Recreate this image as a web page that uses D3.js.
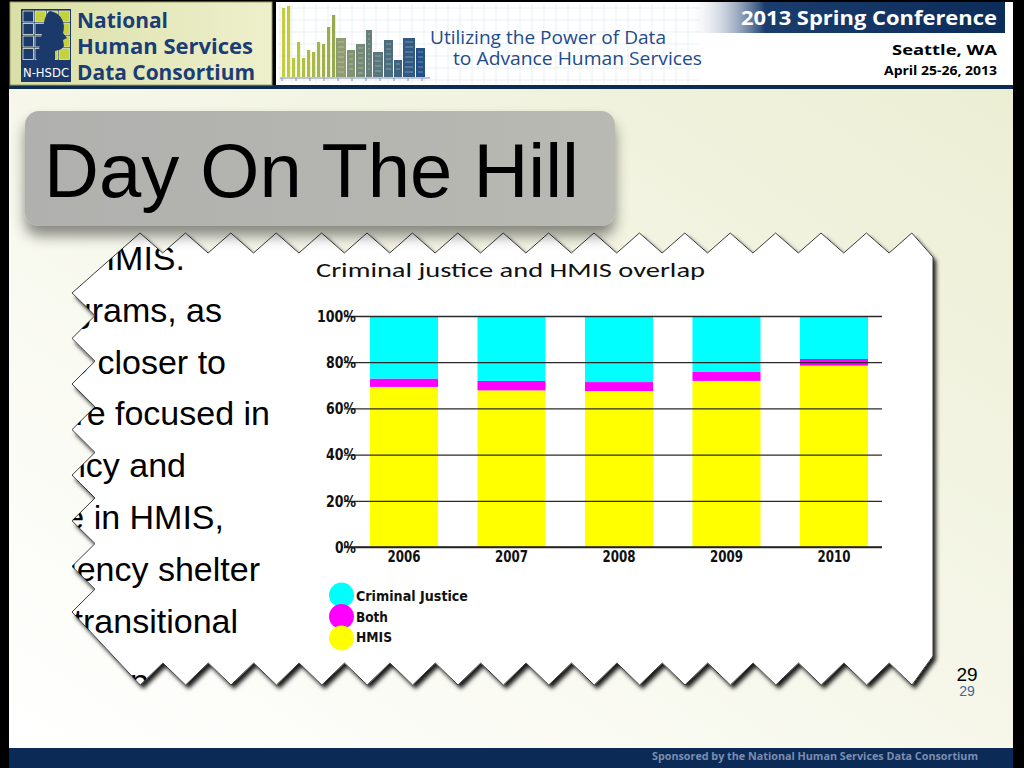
<!DOCTYPE html>
<html><head><meta charset="utf-8">
<script src="https://cdn.jsdelivr.net/npm/d3@7"></script>
<style>html,body{margin:0;padding:0;background:#000;overflow:hidden}</style>
</head><body>
<script>
// ---- data ----
const years = ["2006","2007","2008","2009","2010"];
const hmis = [69.3, 67.8, 67.5, 71.9, 78.5];
const both = [3.6, 4.1, 3.9, 3.9, 2.9];
const criminalJustice = [27.1, 28.1, 28.6, 24.2, 18.6];
const yTicks = [0, 20, 40, 60, 80, 100];
const legendNames = ["Criminal Justice", "Both", "HMIS"];
const legendColors = ["#00ffff", "#ff00ff", "#ffff00"];
const chartTitle = "Criminal justice and HMIS overlap";
const bodyLines = ["in HMIS.", "programs, as", "move closer to", "are focused in", "agency and", "are in HMIS,", "emergency shelter", "transitional"];
const skylineTops = [8, 6, 58, 42, 58, 50, 52, 42, 44, 27, 15];

const W = 1024, H = 768;
const NARROW = "Liberation Sans Narrow, Arial Narrow, DejaVu Sans Condensed, sans-serif";
const svg = d3.select("body").append("svg").attr("width", W).attr("height", H);
const defs = svg.append("defs");

// gradients & filters
const bg = defs.append("linearGradient").attr("id","bgGrad").attr("x1","0").attr("y1","1").attr("x2","1").attr("y2","0");
bg.append("stop").attr("offset","0").attr("stop-color","#ffffff");
bg.append("stop").attr("offset","0.45").attr("stop-color","#f7f8ec");
bg.append("stop").attr("offset","1").attr("stop-color","#eceed4");
const lg = defs.append("linearGradient").attr("id","logoGrad").attr("x1","0").attr("x2","1");
lg.append("stop").attr("offset","0").attr("stop-color","#d9dfa6");
lg.append("stop").attr("offset","1").attr("stop-color","#eef0cc");
const cg = defs.append("linearGradient").attr("id","confGrad").attr("x1","0").attr("x2","1");
cg.append("stop").attr("offset","0").attr("stop-color","#ffffff").attr("stop-opacity","0");
cg.append("stop").attr("offset","0.25").attr("stop-color","#1a3d6e");
cg.append("stop").attr("offset","1").attr("stop-color","#0c2c59");
const tg = defs.append("linearGradient").attr("id","titleGrad").attr("x1","0").attr("x2","1");
tg.append("stop").attr("offset","0").attr("stop-color","#b0b0ae");
tg.append("stop").attr("offset","1").attr("stop-color","#b8b9b2");
const sh = defs.append("filter").attr("id","titleShadow").attr("x","-10%").attr("y","-10%").attr("width","120%").attr("height","140%");
sh.append("feDropShadow").attr("dx",0).attr("dy",10).attr("stdDeviation",7).attr("flood-color","#000").attr("flood-opacity",0.45);
const ps = defs.append("filter").attr("id","paperShadow").attr("x","-5%").attr("y","-5%").attr("width","112%").attr("height","115%");
ps.append("feDropShadow").attr("dx",3).attr("dy",4).attr("stdDeviation",2.2).attr("flood-color","#000").attr("flood-opacity",0.9);

// ---- slide frame ----
svg.append("rect").attr("width",W).attr("height",H).attr("fill","#000");
svg.append("rect").attr("x",9).attr("y",89).attr("width",1004).attr("height",660).attr("fill","url(#bgGrad)");
svg.append("rect").attr("x",9).attr("y",85).attr("width",1004).attr("height",4).attr("fill","#0e2b50");
svg.append("rect").attr("x",9).attr("y",748).attr("width",1004).attr("height",20).attr("fill","#0b2a56");
svg.append("text").attr("x",978).attr("y",760).attr("text-anchor","end")
  .attr("font-family","Open Sans, sans-serif").attr("font-weight",700).attr("font-size",10.5)
  .attr("fill","#7d8db0").attr("textLength",326).attr("lengthAdjust","spacingAndGlyphs")
  .text("Sponsored by the National Human Services Data Consortium");

// ---- header: logo box ----
svg.append("rect").attr("x",10).attr("y",2).attr("width",262).attr("height",83).attr("fill","url(#logoGrad)").attr("stroke","#9a9d6a").attr("stroke-width",1);
const logo = svg.append("g");
logo.append("rect").attr("x",21).attr("y",9).attr("width",50).attr("height",73).attr("fill","#1b3a6b");
for (let r = 0; r < 4; r++) for (let c = 0; c < 4; c++) {
  const green = c >= 2 || (c == 1 && r < 1);
  logo.append("rect").attr("x",23 + c*12).attr("y",11 + r*12.5).attr("width",10.5).attr("height",11)
    .attr("fill", green ? "#c5d23e" : "#1b3a6b").attr("stroke","#e8ecd0").attr("stroke-width",0.8);
}
logo.append("path").attr("d","M50,11 C62,13 66,24 63,33 L67,38 L63,40 L64,46 C62,50 58,50 55,51 L55,61 L36,61 C40,50 40,40 43,30 C44,20 46,13 50,11Z").attr("fill","#1b3a6b");
logo.append("text").attr("x",46).attr("y",77).attr("text-anchor","middle").attr("font-family",NARROW)
  .attr("font-size",12).attr("fill","#fff").attr("textLength",46).attr("lengthAdjust","spacingAndGlyphs").text("N-HSDC");
const logoText = [["National",28,91],["Human Services",54,176],["Data Consortium",80,178]];
logoText.forEach(([t,y,w]) => svg.append("text").attr("x",77).attr("y",y).attr("font-family","Open Sans, sans-serif").attr("font-weight",700)
  .attr("font-size",22).attr("fill","#1b3c74").attr("textLength",w).attr("lengthAdjust","spacingAndGlyphs").text(t));

// ---- header: banner box ----
svg.append("rect").attr("x",276).attr("y",2).attr("width",737).attr("height",83).attr("fill","#ffffff");
const grid = svg.append("g").attr("stroke","#e3e9f0").attr("stroke-width",0.7);
for (let gx = 280; gx < 700; gx += 12) grid.append("line").attr("x1",gx).attr("x2",gx).attr("y1",4).attr("y2",84);
for (let gy = 8; gy < 84; gy += 12) grid.append("line").attr("x1",278).attr("x2",700).attr("y1",gy).attr("y2",gy);
const skyX = d3.scaleLinear().domain([0, skylineTops.length - 1]).range([282, 332]);
const skyColor = d3.scaleLinear().domain([0, skylineTops.length - 1]).range(["#c3cf3c","#98a84c"]);
skylineTops.forEach((t,i) => svg.append("rect").attr("x",skyX(i)).attr("y",t).attr("width",3.2).attr("height",77-t).attr("fill",skyColor(i)));
const buildings = [[336,38,10],[347,50,8],[356,44,9],[366,30,6],[373,52,10],[384,40,9],[394,60,8],[403,38,12],[416,48,9]];
const bColor = d3.scaleLinear().domain([0, buildings.length - 1]).range(["#8e9c70","#235087"]);
buildings.forEach(([bx,t,w],i) => {
  svg.append("rect").attr("x",bx).attr("y",t).attr("width",w).attr("height",77-t).attr("fill",bColor(i));
  for (let yy = t + 4; yy < 74; yy += 5) svg.append("line").attr("x1",bx+2).attr("x2",bx+w-2).attr("y1",yy).attr("y2",yy).attr("stroke","#ffffff").attr("stroke-opacity",0.35).attr("stroke-width",1);
});
svg.append("line").attr("x1",280).attr("x2",430).attr("y1",78).attr("y2",78).attr("stroke","#7a8ab5").attr("stroke-width",1.2);
for (let tx = 282; tx < 430; tx += 14) svg.append("line").attr("x1",tx).attr("x2",tx).attr("y1",78).attr("y2",81).attr("stroke","#7a8ab5");
svg.append("text").attr("x",430).attr("y",44).attr("font-family","Open Sans, sans-serif").attr("font-size",18).attr("fill","#1d4c8c")
  .attr("textLength",236).attr("lengthAdjust","spacingAndGlyphs").text("Utilizing the Power of Data");
svg.append("text").attr("x",453).attr("y",65).attr("font-family","Open Sans, sans-serif").attr("font-size",18).attr("fill","#1d4c8c")
  .attr("textLength",249).attr("lengthAdjust","spacingAndGlyphs").text("to Advance Human Services");
svg.append("rect").attr("x",685).attr("y",2).attr("width",320).attr("height",31).attr("fill","url(#confGrad)");
svg.append("text").attr("x",997).attr("y",25).attr("text-anchor","end").attr("font-family","Open Sans, sans-serif").attr("font-weight",700)
  .attr("font-size",20).attr("fill","#fff").attr("textLength",256).attr("lengthAdjust","spacingAndGlyphs").text("2013 Spring Conference");
svg.append("text").attr("x",997).attr("y",55).attr("text-anchor","end").attr("font-family","Open Sans, sans-serif").attr("font-weight",700)
  .attr("font-size",15).attr("fill","#000").attr("textLength",105).attr("lengthAdjust","spacingAndGlyphs").text("Seattle, WA");
svg.append("text").attr("x",997).attr("y",75).attr("text-anchor","end").attr("font-family","Open Sans, sans-serif").attr("font-weight",700)
  .attr("font-size",11.5).attr("fill","#000").attr("textLength",113).attr("lengthAdjust","spacingAndGlyphs").text("April 25-26, 2013");

// ---- torn paper ----
const pts = [[72,293],[140,233]];
const P = 45.4;
for (let k = 0; k < 17; k++) { pts.push([140 + P*k + P/2, 253]); pts.push([140 + P*(k+1), 233]); }
pts.push([933,257]); pts.push([933,656]);
for (let k = 0; k <= 17; k++) { pts.push([912 - P*k, 685]); if (k < 17) pts.push([912 - P*k - P/2, 663]); }
pts.push([72,612]);
for (let k = 0; k < 7; k++) { pts.push([95, 612 - 22.8 - 45.6*k]); pts.push([72, 612 - 45.6*(k+1)]); }
const polyStr = pts.map(p => p.join(",")).join(" ");
defs.append("clipPath").attr("id","paperClip").append("polygon").attr("points",polyStr);
svg.append("polygon").attr("points",polyStr).attr("fill","#fff").attr("filter","url(#paperShadow)");
svg.append("polygon").attr("points",polyStr).attr("fill","#fff").attr("stroke","#3a3a3a").attr("stroke-width",1);

const paper = svg.append("g").attr("clip-path","url(#paperClip)");
const lineEnds = [185, 222, 226, 270, 186, 224, 260, 238];
bodyLines.forEach((t,i) => paper.append("text").attr("x",lineEnds[i]).attr("y",270 + i*51.8).attr("text-anchor","end")
  .attr("font-family","Liberation Sans, Arial, sans-serif").attr("font-size",34).attr("fill","#000").text(t));
paper.append("text").attr("x",130).attr("y",693).attr("font-family","Liberation Sans, Arial, sans-serif").attr("font-size",34).attr("fill","#000").text("pro");

// ---- chart ----
const x = d3.scaleBand().domain(years).range([370, 868]).paddingInner(0.367).paddingOuter(0);
const y = d3.scaleLinear().domain([0, 100]).range([547, 316]);
const rows = years.map((yr,i) => ({year: yr, HMIS: hmis[i], Both: both[i], "Criminal Justice": criminalJustice[i]}));
const stack = d3.stack().keys(["HMIS","Both","Criminal Justice"])(rows);
const colorOf = d3.scaleOrdinal().domain(legendNames).range(legendColors);
const chart = svg.append("g");
chart.selectAll("g.layer").data(stack).join("g").attr("fill", d => colorOf(d.key))
  .selectAll("rect").data(d => d).join("rect")
  .attr("x", d => x(d.data.year)).attr("width", x.bandwidth())
  .attr("y", d => y(d[1])).attr("height", d => y(d[0]) - y(d[1]));

const yAxis = d3.axisLeft(y).tickValues(yTicks).tickSize(-(882 - 344)).tickFormat(d => d + "%");
const ya = chart.append("g").attr("transform","translate(344,0)").call(yAxis);
ya.select(".domain").remove();
ya.selectAll(".tick line").attr("stroke","#2a2a2a").attr("stroke-width",1.3);
ya.selectAll(".tick text").attr("x",12).attr("dy","0.35em").attr("fill","#111")
  .attr("font-family",NARROW).attr("font-weight",700).attr("font-size",15)
  .attr("textLength", d => String(d).length * 9 + 12).attr("lengthAdjust","spacingAndGlyphs");

const xAxis = d3.axisBottom(x).tickSize(0);
const xa = chart.append("g").attr("transform","translate(0,547)").call(xAxis);
xa.select(".domain").remove();
xa.selectAll(".tick text").attr("dy","0").attr("y",15).attr("fill","#111")
  .attr("font-family",NARROW).attr("font-weight",700).attr("font-size",15.5)
  .attr("textLength",33).attr("lengthAdjust","spacingAndGlyphs");
chart.append("line").attr("x1",344).attr("x2",882).attr("y1",y(0)).attr("y2",y(0)).attr("stroke","#222").attr("stroke-width",1.6);

chart.append("text").attr("x",316).attr("y",277).attr("font-family","Carlito, Open Sans, sans-serif").attr("font-size",20).attr("fill","#111")
  .attr("textLength",389).attr("lengthAdjust","spacingAndGlyphs").text(chartTitle);

const legendWidths = [112, 32, 36];
const legend = chart.append("g");
legendNames.forEach((n,i) => {
  legend.append("circle").attr("cx",341.5).attr("cy",595 + i*21.5).attr("r",12.5).attr("fill",legendColors[i]);
});
legendNames.forEach((n,i) => {
  legend.append("text").attr("x",356).attr("y",601 + i*20.5).attr("fill","#111")
    .attr("font-family",NARROW).attr("font-weight",700).attr("font-size",14.5)
    .attr("textLength",legendWidths[i]).attr("lengthAdjust","spacingAndGlyphs").text(n);
});

// ---- title box ----
svg.append("rect").attr("x",25).attr("y",111).attr("width",590).attr("height",115).attr("rx",14).attr("fill","url(#titleGrad)").attr("filter","url(#titleShadow)");
svg.append("text").attr("x",44).attr("y",197).attr("font-family","Liberation Sans, Arial, sans-serif").attr("font-size",76).attr("fill","#000").text("Day On The Hill");

// page number
svg.append("text").attr("x",967).attr("y",681).attr("text-anchor","middle").attr("font-family","Liberation Sans, Arial, sans-serif").attr("font-size",19).attr("fill","#000").text("29");
svg.append("text").attr("x",967).attr("y",696).attr("text-anchor","middle").attr("font-family","Liberation Sans, Arial, sans-serif").attr("font-size",14).attr("fill","#436892").text("29");
</script>
</body></html>
